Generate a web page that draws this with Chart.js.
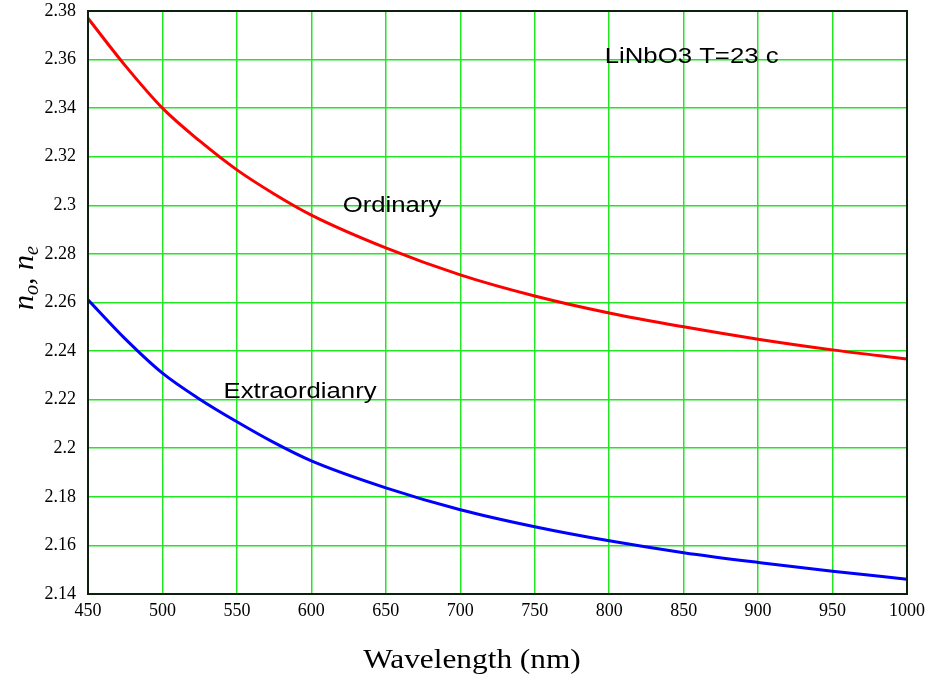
<!DOCTYPE html>
<html>
<head>
<meta charset="utf-8">
<script src="https://cdn.jsdelivr.net/npm/chart.js@4/dist/chart.umd.min.js"></script>
<style>
  html, body { margin: 0; padding: 0; background: #fff; }
  canvas { display: block; }
</style>
</head>
<body>
<canvas id="chart" width="929" height="681"></canvas>
<script>
// --- DATA ---
const wavelengths = [450, 475, 500, 525, 550, 575, 600, 650, 700, 750, 800, 850, 900, 950, 1000];
const ordinary = [2.377, 2.3575, 2.340, 2.3265, 2.3146, 2.3047, 2.296, 2.2825, 2.2714, 2.2627, 2.2557, 2.2500, 2.2449, 2.2405, 2.2367];
const extraordinary = [2.2611, 2.2450, 2.2309, 2.2202, 2.2109, 2.2023, 2.1948, 2.1837, 2.1747, 2.1677, 2.1619, 2.1570, 2.1530, 2.1494, 2.1461];

const xMin = 450, xMax = 1000, xStep = 50;
const yMin = 2.14, yMax = 2.38, yStep = 0.02;

const GRID_GREEN = '#22e622';
const SERIF = '"Liberation Serif", "Times New Roman", serif';
const SANS = '"Liberation Sans", Arial, sans-serif';

// frame + free text drawn on top of the chart
const decorations = {
    id: 'decorations',
    afterDraw(chart) {
        const { ctx, chartArea: a } = chart;
        const xs = chart.scales.x, ys = chart.scales.y;
        ctx.save();

        // plot frame
        ctx.strokeStyle = '#0d200d';
        ctx.lineWidth = 2;
        ctx.strokeRect(a.left, a.top, a.right - a.left, a.bottom - a.top);

        // labels inside the plot (slightly wide, like the original)
        const stretched = (text, x, y, font) => {
            ctx.save();
            ctx.font = font;
            ctx.fillStyle = '#000';
            ctx.textBaseline = 'middle';
            ctx.textAlign = 'left';
            ctx.translate(x, y);
            ctx.scale(1.17, 1);
            ctx.fillText(text, 0, 0);
            ctx.restore();
        };
        stretched('LiNbO3 T=23 c', xs.getPixelForValue(797), ys.getPixelForValue(2.3612), '22px ' + SANS);
        stretched('Ordinary', xs.getPixelForValue(621), ys.getPixelForValue(2.2998), '22px ' + SANS);
        stretched('Extraordianry', xs.getPixelForValue(541), ys.getPixelForValue(2.2232), '22px ' + SANS);

        // x axis title
        ctx.save();
        ctx.font = '27px ' + SERIF;
        ctx.fillStyle = '#000';
        ctx.textAlign = 'center';
        ctx.textBaseline = 'middle';
        ctx.translate(472, 661);
        ctx.scale(1.16, 1);
        ctx.fillText('Wavelength (nm)', 0, 0);
        ctx.restore();

        // y axis title: n_o, n_e
        ctx.save();
        ctx.translate(24, 278);
        ctx.rotate(-Math.PI / 2);
        ctx.fillStyle = '#000';
        ctx.textBaseline = 'alphabetic';
        const big = 'italic 30px ' + SERIF, small = 'italic 20px ' + SERIF;
        const parts = [
            { t: 'n', f: big, dy: 0 },
            { t: 'o', f: small, dy: 5 },
            { t: ', ', f: big, dy: 0 },
            { t: 'n', f: big, dy: 0 },
            { t: 'e', f: small, dy: 5 }
        ];
        let total = 0;
        parts.forEach(p => { ctx.font = p.f; p.w = ctx.measureText(p.t).width; total += p.w; });
        let cx = -total / 2;
        parts.forEach(p => {
            ctx.font = p.f;
            ctx.fillText(p.t, cx, 9 + p.dy);
            cx += p.w;
        });
        ctx.restore();

        ctx.restore();
    }
};

const toXY = (xsArr, ysArr) => xsArr.map((x, i) => ({ x: x, y: ysArr[i] }));

new Chart(document.getElementById('chart'), {
    type: 'line',
    data: {
        datasets: [
            {
                label: 'Ordinary',
                data: toXY(wavelengths, ordinary),
                borderColor: '#ff0000',
                borderWidth: 3,
                pointRadius: 0,
                cubicInterpolationMode: 'monotone',
                fill: false
            },
            {
                label: 'Extraordinary',
                data: toXY(wavelengths, extraordinary),
                borderColor: '#0000ff',
                borderWidth: 3,
                pointRadius: 0,
                cubicInterpolationMode: 'monotone',
                fill: false
            }
        ]
    },
    options: {
        responsive: false,
        animation: false,
        devicePixelRatio: 1,
        layout: { padding: { top: 11, right: 22, left: 0, bottom: 0 } },
        plugins: {
            legend: { display: false },
            tooltip: { enabled: false }
        },
        scales: {
            x: {
                type: 'linear',
                min: xMin,
                max: xMax,
                afterFit: (s) => { s.height = 87; s.paddingLeft = 0; s.paddingRight = 0; },
                ticks: {
                    stepSize: xStep,
                    color: '#000',
                    padding: 6,
                    maxRotation: 0,
                    font: { family: SERIF, size: 18 },
                    callback: (v) => String(v)
                },
                grid: { color: GRID_GREEN, lineWidth: 1.5, drawTicks: false },
                border: { display: false }
            },
            y: {
                type: 'linear',
                min: yMin,
                max: yMax,
                afterFit: (s) => { s.width = 88; s.paddingTop = 0; s.paddingBottom = 0; },
                ticks: {
                    stepSize: yStep,
                    color: '#000',
                    padding: 12,
                    font: { family: SERIF, size: 18 },
                    callback: (v) => String(parseFloat(v.toFixed(2)))
                },
                grid: { color: GRID_GREEN, lineWidth: 1.5, drawTicks: false },
                border: { display: false }
            }
        }
    },
    plugins: [decorations]
});
</script>
</body>
</html>
